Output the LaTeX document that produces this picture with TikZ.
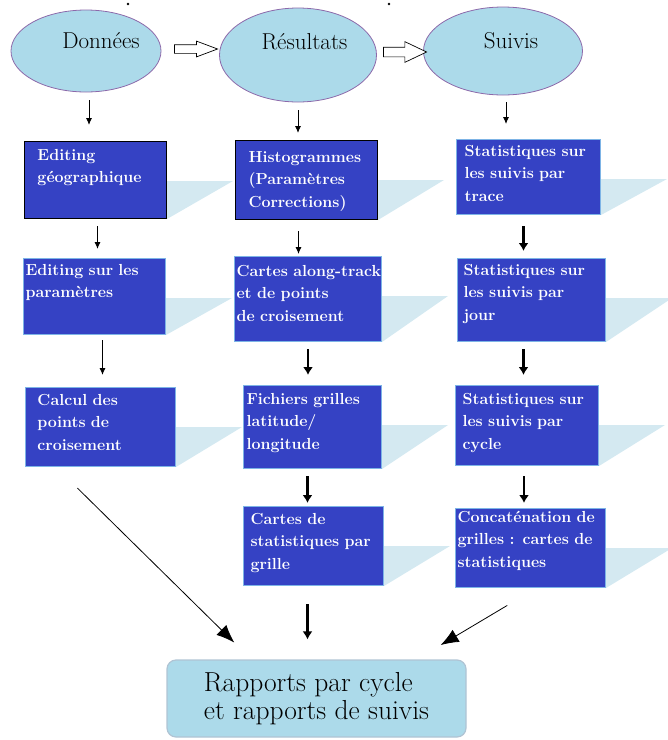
\documentclass[tikz,border=0pt]{standalone}
\usepackage{xcolor}
\usepackage{tikz}
\usetikzlibrary{shapes.geometric, shapes.arrows, arrows.meta, positioning, calc, backgrounds}
\definecolor{boxblue}{RGB}{53,66,196}
\definecolor{skyfill}{RGB}{172,218,234}
\definecolor{ovalline}{RGB}{140,105,170}
\definecolor{shadowblue}{RGB}{212,233,241}
\definecolor{edgeblue}{RGB}{125,180,230}
\definecolor{rapline}{RGB}{176,196,212}

\begin{document}
\begin{tikzpicture}[
    x=1pt, y=-1pt,
    oval/.style={draw=ovalline, fill=skyfill, ellipse, line width=0.8pt},
    ovaltext/.style={font=\fontsize{23}{25}\selectfont, inner sep=0pt},
    hollow/.style={draw, fill=white, single arrow, line width=0.7pt, inner xsep=0pt, text height=0pt, text depth=0pt},
    bbox/.style n args={4}{draw=edgeblue, fill=boxblue, line width=1pt, text=white, align=left, anchor=north west,
        font=\fontsize{16}{22.3}\selectfont\bfseries\hyphenpenalty 10000,
        text width=#1, inner xsep=#2, inner ysep=0pt, text height=#3, text depth=#4},
    dark/.style={draw=black},
    rapbox/.style={draw=rapline, fill=skyfill, rounded corners=9pt, line width=1.2pt, minimum width=299pt,
        minimum height=77pt, align=left, font=\fontsize{27.5}{28}\selectfont},
    thinarr/.style={-{Latex[length=7pt,width=6pt]}, line width=0.9pt},
    thickarr/.style={-{Latex[length=8pt,width=10pt]}, line width=2.6pt},
    longarr/.style={-{Latex[length=18pt,width=14pt]}, line width=0.8pt},
    dropshade/.style={fill=shadowblue}
]
    \useasboundingbox (0,0) rectangle (668,740);
    \fill (128,4) circle (1.3pt) (389,4) circle (1.3pt);

    % ovals on top
    \node[oval, minimum width=150pt, minimum height=82pt] (don) at (86,51) {};
    \node[oval, minimum width=157pt, minimum height=94pt] (res) at (298,55) {};
    \node[oval, minimum width=159pt, minimum height=88pt] (sui) at (503,51) {};
    \node[ovaltext] (donlbl) at ([xshift=15pt,yshift=10pt]don.center) {Données};
    \node[ovaltext] (reslbl) at ([xshift=6.5pt,yshift=13.5pt]res.center) {Résultats};
    \node[ovaltext] (suilbl) at ([xshift=8pt,yshift=10pt]sui.center) {Suivis};
    \node[hollow, inner ysep=4pt, minimum height=43pt, minimum width=15pt, single arrow head extend=3.5pt,
        single arrow tip angle=41] (hol1) at ($(don.east)!0.5!(res.west)+(0,-4)$) {};
    \node[hollow, inner ysep=4.5pt, minimum height=43pt, minimum width=20pt, single arrow head extend=5.5pt,
        single arrow tip angle=51] (hol2) at ($(res.east)!0.5!(sui.west)+(0,-1)$) {};

    % the three columns
    \node[bbox={116pt}{13pt}{19pt}{58pt}, dark] (A1) at (24,141) {Editing\\géographique};
    \node[bbox={138pt}{2pt}{17pt}{59pt}, below=39pt of A1.south west, anchor=north west, xshift=-1pt] (A2) {Editing sur les\\paramètres};
    \node[bbox={126pt}{12pt}{18pt}{61pt}, below=52pt of A2.south west, anchor=north west, xshift=2pt] (A3) {Calcul des\\points de\\croisement};

    \node[bbox={116pt}{13pt}{22pt}{57pt}, dark] (B1) at (235,140) {Histogrammes\\(Paramètres\\Corrections)};
    \node[bbox={143pt}{2pt}{20pt}{65pt}, below=36pt of B1.south west, anchor=north west, xshift=-1pt] (B2) {\mbox{Cartes along-track}\\et de points\\de croisement};
    \node[bbox={132pt}{3pt}{19pt}{64pt}, below=43pt of B2.south west, anchor=north west, xshift=9pt] (B3) {Fichiers grilles\\latitude/\\longitude};
    \node[bbox={126pt}{7pt}{18pt}{61pt}, below=37pt of B3.south west, anchor=north west] (B4) {Cartes de\\\mbox{statistiques par}\\grille};

    \node[bbox={128pt}{8pt}{17pt}{58pt}] (C1) at (456,139) {Statistiques sur\\les suivis par\\trace};
    \node[bbox={136pt}{6pt}{17pt}{66pt}, below=43pt of C1.south west, anchor=north west, xshift=1pt] (C2) {Statistiques sur\\les suivis par\\jour};
    \node[bbox={129pt}{7pt}{19pt}{61pt}, below=43pt of C2.south west, anchor=north west, xshift=-2pt] (C3) {Statistiques sur\\les suivis par\\cycle};
    \node[bbox={146pt}{2pt}{14pt}{65pt}, below=42pt of C3.south west, anchor=north west] (C4) {Concaténation de\\\mbox{grilles : cartes de}\\statistiques};

    \node[rapbox] (rap) at (316.5,698.5) {Rapports par cycle\\et rapports de suivis};

    \begin{scope}[on background layer]
        \foreach \b in {A1,A2,A3,B1,B2,B3,B4,C1,C2,C3,C4}
            \fill[dropshade] ([yshift=-40pt]\b.north east) -- ++(66,0) -- (\b.south east) -- cycle;
    \end{scope}

    \draw[thinarr, shorten <=8pt, shorten >=16pt] ([xshift=3pt]don.south) -- ([xshift=3pt]don.south |- A1.north);
    \draw[thinarr, shorten <=8pt, shorten >=7pt] (res.south) -- (res.south |- B1.north);
    \draw[thinarr, shorten <=7pt, shorten >=15pt] ([xshift=3pt]sui.south) -- ([xshift=3pt]sui.south |- C1.north);
    \draw[thinarr, shorten <=7pt, shorten >=9pt] ([xshift=2pt]A1.south) -- ([xshift=2pt]A1.south |- A2.north);
    \draw[thinarr, shorten <=11pt, shorten >=2pt] ([xshift=-8pt]B1.south) -- ([xshift=-8pt]B1.south |- B2.north);
    \draw[thickarr, shorten <=11pt, shorten >=7pt] ([xshift=-5pt]C1.south) -- ([xshift=-5pt]C1.south |- C2.north);
    \draw[thinarr, shorten <=5pt, shorten >=12pt] ([xshift=8pt]A2.south) -- ([xshift=8pt]A2.south |- A3.north);
    \draw[thickarr, shorten <=7pt, shorten >=10pt] (B2.south) -- (B2.south |- B3.north);
    \draw[thickarr, shorten <=7pt, shorten >=10pt] ([xshift=-8pt]C2.south) -- ([xshift=-8pt]C2.south |- C3.north);
    \draw[thickarr, shorten <=7pt, shorten >=3pt] ([xshift=-5pt]B3.south) -- ([xshift=-5pt]B3.south |- B4.north);
    \draw[thickarr, shorten <=10pt, shorten >=5pt] ([xshift=-3pt]C3.south) -- ([xshift=-3pt]C3.south |- C4.north);
    \draw[longarr, shorten <=30pt, shorten >=24pt] ([xshift=31pt]A3.south west) -- ([xshift=85pt]rap.north west);
    \draw[thickarr, shorten <=18pt, shorten >=20pt] ([xshift=-6pt]B4.south) -- ([xshift=-6pt]B4.south |- rap.north);
    \draw[longarr, shorten <=34pt, shorten >=28pt] ([xshift=81.5pt]C4.south west) -- ([xshift=-50pt]rap.north east);
\end{tikzpicture}
\end{document}
